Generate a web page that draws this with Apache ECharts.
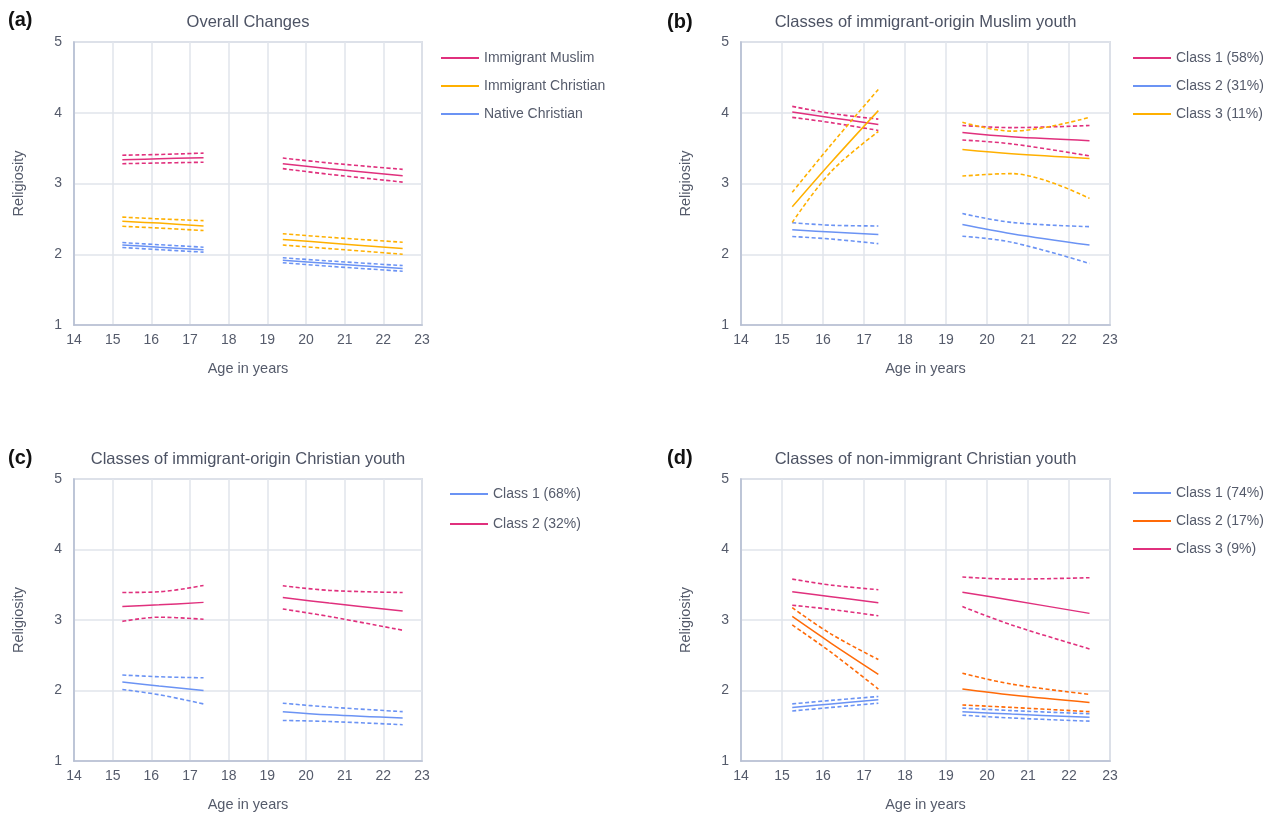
<!DOCTYPE html>
<html>
<head>
<meta charset="utf-8">
<script src="https://cdn.jsdelivr.net/npm/echarts@6/dist/echarts.min.js"></script>
<style>
html,body{margin:0;padding:0;background:#fff;}
#chart{width:1270px;height:813px;}
</style>
</head>
<body>
<div id="chart"></div>
<script>
// ---------- data ----------
const wave1Ages = [15.25, 16.2, 17.35];
const wave2Ages = [19.4, 20.6, 22.5];
const xTicks = [14, 15, 16, 17, 18, 19, 20, 21, 22, 23];
const yTicks = [1, 2, 3, 4, 5];

const panelTitles = ['Overall Changes', 'Classes of immigrant-origin Muslim youth',
  'Classes of immigrant-origin Christian youth', 'Classes of non-immigrant Christian youth'];
const panelTags = ['(a)', '(b)', '(c)', '(d)'];

// Panel (a) – each array: 3 values for ages 15-17, then 3 values for ages 19-22
const aMuslimEst = [3.335, 3.35, 3.365, 3.28, 3.21, 3.11];
const aMuslimHi  = [3.40, 3.41, 3.43, 3.36, 3.29, 3.20];
const aMuslimLo  = [3.28, 3.29, 3.30, 3.21, 3.13, 3.02];
const aImmChrEst = [2.465, 2.44, 2.40, 2.21, 2.16, 2.08];
const aImmChrHi  = [2.525, 2.50, 2.475, 2.29, 2.24, 2.17];
const aImmChrLo  = [2.395, 2.37, 2.335, 2.13, 2.08, 2.00];
const aNatChrEst = [2.13, 2.10, 2.065, 1.915, 1.87, 1.80];
const aNatChrHi  = [2.165, 2.135, 2.10, 1.95, 1.905, 1.84];
const aNatChrLo  = [2.095, 2.065, 2.03, 1.88, 1.83, 1.76];

// Panel (b)
const bC1Est = [4.01, 3.93, 3.835, 3.72, 3.66, 3.605];
const bC1Hi  = [4.09, 3.99, 3.91, 3.82, 3.79, 3.82];
const bC1Lo  = [3.935, 3.86, 3.75, 3.615, 3.56, 3.39];
const bC2Est = [2.345, 2.315, 2.28, 2.42, 2.29, 2.13];
const bC2Hi  = [2.445, 2.41, 2.40, 2.575, 2.45, 2.39];
const bC2Lo  = [2.25, 2.215, 2.15, 2.255, 2.17, 1.87];
const bC3Est = [2.67, 3.3, 4.03, 3.48, 3.42, 3.355];
const bC3Hi  = [2.875, 3.55, 4.33, 3.865, 3.74, 3.935];
const bC3Lo  = [2.45, 3.17, 3.735, 3.105, 3.14, 2.79];

// Panel (c)
const cC1Est = [2.12, 2.065, 2.0, 1.70, 1.655, 1.61];
const cC1Hi  = [2.22, 2.195, 2.18, 1.82, 1.765, 1.70];
const cC1Lo  = [2.015, 1.94, 1.81, 1.575, 1.56, 1.515];
const cC2Est = [3.19, 3.215, 3.25, 3.32, 3.24, 3.127];
const cC2Hi  = [3.39, 3.40, 3.49, 3.486, 3.42, 3.39];
const cC2Lo  = [2.98, 3.04, 3.01, 3.156, 3.05, 2.855];

// Panel (d)
const dC1Est = [1.76, 1.81, 1.87, 1.70, 1.665, 1.62];
const dC1Hi  = [1.81, 1.86, 1.915, 1.75, 1.715, 1.67];
const dC1Lo  = [1.71, 1.76, 1.82, 1.65, 1.61, 1.565];
const dC2Est = [3.05, 2.67, 2.23, 2.02, 1.935, 1.83];
const dC2Hi  = [3.175, 2.80, 2.44, 2.245, 2.09, 1.945];
const dC2Lo  = [2.93, 2.54, 2.02, 1.795, 1.76, 1.70];
const dC3Est = [3.40, 3.33, 3.245, 3.395, 3.28, 3.094];
const dC3Hi  = [3.58, 3.495, 3.43, 3.61, 3.58, 3.60];
const dC3Lo  = [3.21, 3.15, 3.06, 3.19, 2.93, 2.59];

// ---------- styling ----------
const PINK = '#e0307d', GOLD = '#ffb000', BLUE = '#6b93f4', ORANGE = '#ff6a08';
const FONT = '"Liberation Sans", Arial, sans-serif';
const TXT = '#555b6b';

const groups = [
  {p:0, name:'Immigrant Muslim', color:PINK, est:aMuslimEst, hi:aMuslimHi, lo:aMuslimLo},
  {p:0, name:'Immigrant Christian', color:GOLD, est:aImmChrEst, hi:aImmChrHi, lo:aImmChrLo},
  {p:0, name:'Native Christian', color:BLUE, est:aNatChrEst, hi:aNatChrHi, lo:aNatChrLo},
  {p:1, name:'Class 1 (58%)', color:PINK, est:bC1Est, hi:bC1Hi, lo:bC1Lo},
  {p:1, name:'Class 2 (31%)', color:BLUE, est:bC2Est, hi:bC2Hi, lo:bC2Lo},
  {p:1, name:'Class 3 (11%)', color:GOLD, est:bC3Est, hi:bC3Hi, lo:bC3Lo},
  {p:2, name:'Class 1 (68%)', color:BLUE, est:cC1Est, hi:cC1Hi, lo:cC1Lo},
  {p:2, name:'Class 2 (32%)', color:PINK, est:cC2Est, hi:cC2Hi, lo:cC2Lo},
  {p:3, name:'Class 1 (74%)', color:BLUE, est:dC1Est, hi:dC1Hi, lo:dC1Lo},
  {p:3, name:'Class 2 (17%)', color:ORANGE, est:dC2Est, hi:dC2Hi, lo:dC2Lo},
  {p:3, name:'Class 3 (9%)', color:PINK, est:dC3Est, hi:dC3Hi, lo:dC3Lo}
];

const gridBoxes = [
  {left:74, top:42, width:348, height:283},
  {left:741, top:42, width:369, height:283},
  {left:74, top:479, width:348, height:283},
  {left:741, top:479, width:369, height:283}
];

function pts(vals, start) {
  const ages = start === 0 ? wave1Ages : wave2Ages;
  return ages.map((a, i) => [a, vals[start + i]]);
}

const series = [];
groups.forEach(g => {
  [0, 3].forEach(s => {
    const common = {type:'line', xAxisIndex:g.p, yAxisIndex:g.p, symbol:'none', smooth:0.35,
      silent:true, animation:false, color:g.color};
    series.push(Object.assign({}, common, {name:g.name, data:pts(g.est, s),
      lineStyle:{color:g.color, width:1.5}}));
    series.push(Object.assign({}, common, {name:g.name + ' upper', data:pts(g.hi, s),
      lineStyle:{color:g.color, width:1.6, type:[4, 2.5]}}));
    series.push(Object.assign({}, common, {name:g.name + ' lower', data:pts(g.lo, s),
      lineStyle:{color:g.color, width:1.6, type:[4, 2.5]}}));
  });
});

const grids = gridBoxes.map(b => Object.assign({show:true, borderColor:'#c3cad8', borderWidth:1.6,
  containLabel:false}, b));

const xAxes = gridBoxes.map((b, i) => ({
  type:'value', gridIndex:i, min:xTicks[0], max:xTicks[xTicks.length - 1], interval:1,
  name:'Age in years', nameLocation:'middle', nameGap:36,
  nameTextStyle:{color:TXT, fontSize:14.5, fontFamily:FONT},
  axisLine:{show:true, lineStyle:{color:'#b6bfd2', width:1.6}},
  axisTick:{show:false},
  axisLabel:{color:TXT, fontSize:14, fontFamily:FONT, margin:8},
  splitLine:{show:true, lineStyle:{color:'#e1e4eb', width:1.5}}
}));

const yAxes = gridBoxes.map((b, i) => ({
  type:'value', gridIndex:i, min:yTicks[0], max:yTicks[yTicks.length - 1], interval:1,
  name:'Religiosity', nameLocation:'middle', nameGap:48, nameRotate:90,
  nameTextStyle:{color:TXT, fontSize:14.5, fontFamily:FONT},
  axisLine:{show:true, lineStyle:{color:'#b6bfd2', width:1.6}},
  axisTick:{show:false},
  axisLabel:{color:TXT, fontSize:14, fontFamily:FONT, margin:12},
  splitLine:{show:true, lineStyle:{color:'#e1e4eb', width:1.5}}
}));

const legendPos = [
  {left:436, top:46, gap:14},
  {left:1128, top:46, gap:14},
  {left:445, top:482, gap:16},
  {left:1128, top:481, gap:14}
];
const legends = legendPos.map((lp, i) => ({
  orient:'vertical', left:lp.left, top:lp.top, itemGap:lp.gap,
  icon:'rect', itemWidth:38, itemHeight:2,
  data:groups.filter(g => g.p === i).map(g => g.name),
  textStyle:{color:TXT, fontSize:14, fontFamily:FONT, padding:[0, 0, 0, 0]},
  selectedMode:false
}));

const titles = gridBoxes.map((b, i) => ({
  text:panelTitles[i], left:b.left + b.width / 2 - 5, top:b.top - 33, textAlign:'center',
  textStyle:{color:'#4d5364', fontSize:16.5, fontWeight:'normal', fontFamily:FONT}
}));

const tagPos = [[8, 10], [667, 12], [8, 448], [667, 448]];
const graphics = tagPos.map((t, i) => ({
  type:'text', left:t[0], top:t[1],
  style:{text:panelTags[i], fill:'#111', font:'bold 20px ' + FONT}
}));

const chart = echarts.init(document.getElementById('chart'), null, {renderer:'canvas'});
chart.setOption({
  backgroundColor:'#ffffff',
  animation:false,
  title:titles,
  legend:legends,
  grid:grids,
  xAxis:xAxes,
  yAxis:yAxes,
  series:series,
  graphic:graphics
});
</script>
</body>
</html>
